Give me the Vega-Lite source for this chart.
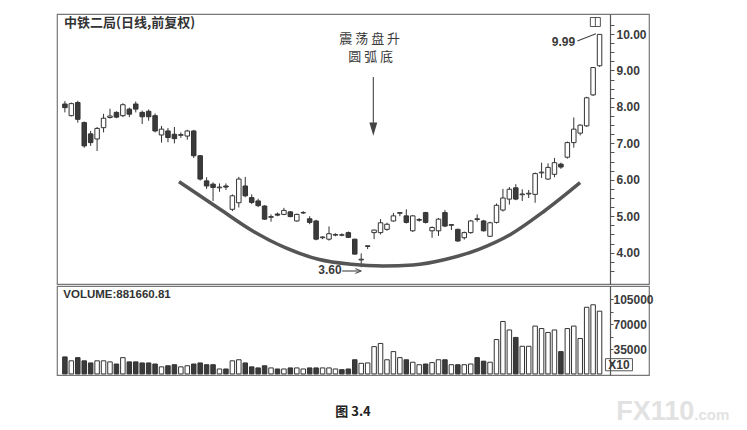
{
  "$schema": "https://vega.github.io/schema/vega-lite/v6.json",
  "background": "white",
  "padding": {"left": 56, "top": 13, "right": 0, "bottom": 0},
  "autosize": {"type": "pad"},
  "spacing": 0,
  "config": {
    "view": {"stroke": "#777", "strokeWidth": 1.2},
    "font": "Liberation Sans",
    "axis": {"title": null, "grid": false}
  },
  "datasets": {
    "candles": [
      {"i": 1, "o": 8.08, "h": 8.16, "l": 7.85, "c": 7.98, "v": 24000},
      {"i": 2, "o": 7.76, "h": 8.12, "l": 7.74, "c": 8.09, "v": 18500},
      {"i": 3, "o": 8.12, "h": 8.17, "l": 7.57, "c": 7.66, "v": 23000},
      {"i": 4, "o": 7.57, "h": 7.6, "l": 6.88, "c": 6.93, "v": 18500},
      {"i": 5, "o": 7.26, "h": 7.34, "l": 6.93, "c": 7.02, "v": 15500},
      {"i": 6, "o": 7.12, "h": 7.45, "l": 6.79, "c": 7.41, "v": 18500},
      {"i": 7, "o": 7.43, "h": 7.81, "l": 7.3, "c": 7.69, "v": 18500},
      {"i": 8, "o": 7.71, "h": 7.95, "l": 7.68, "c": 7.75, "v": 17000},
      {"i": 9, "o": 7.85, "h": 7.88, "l": 7.69, "c": 7.72, "v": 14000},
      {"i": 10, "o": 7.76, "h": 8.1, "l": 7.72, "c": 8.06, "v": 23000},
      {"i": 11, "o": 7.94, "h": 7.98, "l": 7.72, "c": 7.8, "v": 17000},
      {"i": 12, "o": 8.08, "h": 8.15, "l": 7.85, "c": 7.94, "v": 17000},
      {"i": 13, "o": 7.85, "h": 7.9, "l": 7.53, "c": 7.73, "v": 15500},
      {"i": 14, "o": 7.88, "h": 7.93, "l": 7.62, "c": 7.73, "v": 15500},
      {"i": 15, "o": 7.76, "h": 7.82, "l": 7.3, "c": 7.34, "v": 14000},
      {"i": 16, "o": 7.23, "h": 7.48, "l": 7.02, "c": 7.39, "v": 10000},
      {"i": 17, "o": 7.34, "h": 7.42, "l": 7.03, "c": 7.16, "v": 11500},
      {"i": 18, "o": 7.25, "h": 7.45, "l": 7.0, "c": 7.13, "v": 13000},
      {"i": 19, "o": 7.22, "h": 7.3, "l": 7.15, "c": 7.24, "v": 10000},
      {"i": 20, "o": 7.2, "h": 7.37, "l": 7.1, "c": 7.34, "v": 11500},
      {"i": 21, "o": 7.34, "h": 7.37, "l": 6.6, "c": 6.66, "v": 14000},
      {"i": 22, "o": 6.66, "h": 6.68, "l": 5.98, "c": 6.02, "v": 15500},
      {"i": 23, "o": 5.97, "h": 6.07, "l": 5.75, "c": 5.83, "v": 13000},
      {"i": 24, "o": 5.88, "h": 5.93, "l": 5.42, "c": 5.79, "v": 13000},
      {"i": 25, "o": 5.78, "h": 5.9, "l": 5.67, "c": 5.8, "v": 7000},
      {"i": 26, "o": 5.83, "h": 5.9, "l": 5.72, "c": 5.8, "v": 7000},
      {"i": 27, "o": 5.19, "h": 5.6, "l": 5.14, "c": 5.56, "v": 18500},
      {"i": 28, "o": 5.37, "h": 6.08, "l": 5.24, "c": 6.02, "v": 20000},
      {"i": 29, "o": 5.83, "h": 6.08, "l": 5.52, "c": 5.56, "v": 15500},
      {"i": 30, "o": 5.51, "h": 5.6, "l": 5.33, "c": 5.38, "v": 10000},
      {"i": 31, "o": 5.42, "h": 5.48, "l": 5.25, "c": 5.29, "v": 8500},
      {"i": 32, "o": 5.28, "h": 5.3, "l": 4.9, "c": 4.92, "v": 11500},
      {"i": 33, "o": 4.97, "h": 5.05, "l": 4.85, "c": 4.99, "v": 8500},
      {"i": 34, "o": 5.06, "h": 5.1, "l": 5.0, "c": 5.03, "v": 7000},
      {"i": 35, "o": 5.05, "h": 5.23, "l": 5.03, "c": 5.16, "v": 7000},
      {"i": 36, "o": 5.12, "h": 5.14, "l": 4.97, "c": 4.99, "v": 8500},
      {"i": 37, "o": 4.87, "h": 5.07, "l": 4.85, "c": 5.05, "v": 8500},
      {"i": 38, "o": 5.09, "h": 5.14, "l": 5.06, "c": 5.1, "v": 7000},
      {"i": 39, "o": 4.93, "h": 5.0, "l": 4.78, "c": 4.83, "v": 8500},
      {"i": 40, "o": 4.87, "h": 4.9, "l": 4.34, "c": 4.37, "v": 8500},
      {"i": 41, "o": 4.41, "h": 4.45, "l": 4.37, "c": 4.43, "v": 8500},
      {"i": 42, "o": 4.37, "h": 4.72, "l": 4.33, "c": 4.52, "v": 8500},
      {"i": 43, "o": 4.48, "h": 4.53, "l": 4.45, "c": 4.5, "v": 7000},
      {"i": 44, "o": 4.49, "h": 4.53, "l": 4.45, "c": 4.48, "v": 6000},
      {"i": 45, "o": 4.55, "h": 4.58, "l": 4.4, "c": 4.42, "v": 7000},
      {"i": 46, "o": 4.37, "h": 4.38, "l": 3.95, "c": 3.96, "v": 20000},
      {"i": 47, "o": 3.8, "h": 3.98, "l": 3.6, "c": 3.82, "v": 15000},
      {"i": 48, "o": 4.17, "h": 4.19, "l": 4.1, "c": 4.19, "v": 15500},
      {"i": 49, "o": 4.55, "h": 4.63, "l": 4.37, "c": 4.62, "v": 38500},
      {"i": 50, "o": 4.55, "h": 4.92, "l": 4.5, "c": 4.82, "v": 43000},
      {"i": 51, "o": 4.64, "h": 4.82, "l": 4.6, "c": 4.78, "v": 20000},
      {"i": 52, "o": 4.87, "h": 5.09, "l": 4.85, "c": 5.01, "v": 31500},
      {"i": 53, "o": 5.08, "h": 5.11, "l": 5.0, "c": 5.1, "v": 23000},
      {"i": 54, "o": 5.01, "h": 5.19, "l": 4.8, "c": 4.83, "v": 20000},
      {"i": 55, "o": 4.6, "h": 5.03, "l": 4.57, "c": 5.01, "v": 16500},
      {"i": 56, "o": 4.89, "h": 4.95, "l": 4.85, "c": 4.91, "v": 13000},
      {"i": 57, "o": 5.1, "h": 5.12, "l": 4.8, "c": 4.83, "v": 14000},
      {"i": 58, "o": 4.6, "h": 4.72, "l": 4.41, "c": 4.69, "v": 16000},
      {"i": 59, "o": 4.6, "h": 4.95, "l": 4.46, "c": 4.92, "v": 20000},
      {"i": 60, "o": 5.1, "h": 5.17, "l": 4.7, "c": 4.73, "v": 20000},
      {"i": 61, "o": 4.75, "h": 4.78, "l": 4.62, "c": 4.77, "v": 13000},
      {"i": 62, "o": 4.64, "h": 4.66, "l": 4.3, "c": 4.32, "v": 13000},
      {"i": 63, "o": 4.41, "h": 4.58, "l": 4.36, "c": 4.55, "v": 13000},
      {"i": 64, "o": 4.55, "h": 4.9, "l": 4.52, "c": 4.87, "v": 14000},
      {"i": 65, "o": 4.93, "h": 5.05, "l": 4.85, "c": 4.91, "v": 23000},
      {"i": 66, "o": 4.87, "h": 4.9, "l": 4.58, "c": 4.6, "v": 18000},
      {"i": 67, "o": 4.45, "h": 4.85, "l": 4.43, "c": 4.82, "v": 16500},
      {"i": 68, "o": 4.83, "h": 5.35, "l": 4.8, "c": 5.3, "v": 48500},
      {"i": 69, "o": 5.17, "h": 5.75, "l": 5.13, "c": 5.5, "v": 74000},
      {"i": 70, "o": 5.47, "h": 5.8, "l": 5.32, "c": 5.74, "v": 62000},
      {"i": 71, "o": 5.78, "h": 5.88, "l": 5.44, "c": 5.47, "v": 51500},
      {"i": 72, "o": 5.59, "h": 5.74, "l": 5.42, "c": 5.61, "v": 39000},
      {"i": 73, "o": 5.61, "h": 5.72, "l": 5.5, "c": 5.63, "v": 39000},
      {"i": 74, "o": 5.6, "h": 6.2, "l": 5.37, "c": 6.17, "v": 67500},
      {"i": 75, "o": 6.19, "h": 6.47, "l": 6.05, "c": 6.21, "v": 64000},
      {"i": 76, "o": 6.02, "h": 6.45, "l": 6.0, "c": 6.34, "v": 58500},
      {"i": 77, "o": 6.15, "h": 6.6, "l": 6.07, "c": 6.47, "v": 62000},
      {"i": 78, "o": 6.43, "h": 6.47, "l": 6.3, "c": 6.35, "v": 31500},
      {"i": 79, "o": 6.62, "h": 7.05, "l": 6.58, "c": 7.02, "v": 64000},
      {"i": 80, "o": 7.02, "h": 7.71, "l": 6.88, "c": 7.39, "v": 67500},
      {"i": 81, "o": 7.28, "h": 7.52, "l": 7.22, "c": 7.5, "v": 50000},
      {"i": 82, "o": 7.48, "h": 8.28, "l": 7.45, "c": 8.25, "v": 94000},
      {"i": 83, "o": 8.33, "h": 9.09, "l": 8.3, "c": 9.08, "v": 97500},
      {"i": 84, "o": 9.13, "h": 9.99, "l": 9.1, "c": 9.99, "v": 88500}
    ],
    "arc": [
      {"i": 18.71, "p": 5.948},
      {"i": 25.08, "p": 5.19},
      {"i": 30.16, "p": 4.595},
      {"i": 35.2, "p": 4.137},
      {"i": 40.34, "p": 3.819},
      {"i": 45.42, "p": 3.681},
      {"i": 50.46, "p": 3.635},
      {"i": 55.04, "p": 3.662},
      {"i": 60.18, "p": 3.819},
      {"i": 65.26, "p": 4.093},
      {"i": 70.3, "p": 4.513},
      {"i": 75.44, "p": 5.144},
      {"i": 80.98, "p": 5.921}
    ]
  },
  "vconcat": [
    {
      "width": 592,
      "height": 270,
      "encoding": {
        "x": {"type": "quantitative", "scale": {"domain": [0.55, 90.9], "nice": false, "zero": false}, "axis": null},
        "y": {
          "type": "quantitative",
          "scale": {"domain": [3.14, 10.55], "nice": false, "zero": false},
          "axis": {
            "orient": "right", "offset": -39,
            "values": [3.5, 3.75, 4, 4.25, 4.5, 4.75, 5, 5.25, 5.5, 5.75, 6, 6.25, 6.5, 6.75, 7, 7.25, 7.5, 7.75, 8, 8.25, 8.5, 8.75, 9, 9.25, 9.5, 9.75, 10, 10.25],
            "labelExpr": "datum.value % 1 === 0 ? format(datum.value, '.2f') : ''",
            "labelOverlap": false,
            "tickSize": 4,
            "labelFont": "Liberation Sans", "labelFontSize": 12, "labelFontWeight": "bold", "labelColor": "#3a3a3a", "labelPadding": 2,
            "domainColor": "#555", "domainWidth": 1.2, "tickColor": "#555"
          }
        }
      },
      "layer": [
        {
          "data": {"name": "candles"},
          "mark": {"type": "rule", "color": "#333", "strokeWidth": 1},
          "encoding": {"x": {"field": "i"}, "y": {"field": "l"}, "y2": {"field": "h"}}
        },
        {
          "data": {"name": "candles"},
          "mark": {"type": "bar", "size": 4.5, "stroke": "#333", "strokeWidth": 1},
          "encoding": {
            "x": {"field": "i"},
            "y": {"field": "o"},
            "y2": {"field": "c"},
            "fill": {"condition": {"test": "datum.c >= datum.o", "value": "white"}, "value": "#3a3a3a"}
          }
        },
        {
          "data": {"name": "arc"},
          "mark": {"type": "line", "interpolate": "monotone", "color": "#555", "strokeWidth": 3.5},
          "encoding": {"x": {"field": "i"}, "y": {"field": "p"}}
        },
        {
          "data": {"values": [
            {"i": 0.86, "p": 10.31, "t": "中铁二局(日线,前复权)"}
          ]},
          "mark": {"type": "text", "align": "left", "baseline": "middle", "font": "Noto Sans CJK SC", "fontSize": 13, "fontWeight": "bold", "color": "#333"},
          "encoding": {"x": {"field": "i"}, "y": {"field": "p"}, "text": {"field": "t"}}
        },
        {
          "data": {"values": [
            {"i": 48.32, "p": 9.87, "t": "震 荡 盘 升"},
            {"i": 48.47, "p": 9.38, "t": "圆 弧 底"}
          ]},
          "mark": {"type": "text", "align": "center", "baseline": "middle", "font": "Noto Sans CJK SC", "fontSize": 13, "color": "#3a3a3a"},
          "encoding": {"x": {"field": "i"}, "y": {"field": "p"}, "text": {"field": "t"}}
        },
        {
          "data": {"values": [
            {"i": 48.88, "p": 8.82, "p2": 7.5},
            {"i": 44.05, "i2": 46.85, "p": 3.497, "p2": 3.497},
            {"i": 80.55, "i2": 83.43, "p": 9.81, "p2": 10.01}
          ]},
          "mark": {"type": "rule", "color": "#444", "strokeWidth": 1.1},
          "encoding": {"x": {"field": "i"}, "x2": {"field": "i2"}, "y": {"field": "p"}, "y2": {"field": "p2"}}
        },
        {
          "data": {"values": [{"i": 48.88, "p": 7.39}]},
          "mark": {"type": "point", "shape": "M-0.6,-1L0.6,-1L0,1Z", "size": 174, "filled": true, "color": "#444", "opacity": 1},
          "encoding": {"x": {"field": "i"}, "y": {"field": "p"}}
        },
        {
          "data": {"values": [{"i": 46.55, "p": 3.497}]},
          "mark": {"type": "point", "shape": "M-1,-0.8L1,0L-1,0.8", "size": 36, "filled": false, "color": "#444", "strokeWidth": 1, "opacity": 1},
          "encoding": {"x": {"field": "i"}, "y": {"field": "p"}}
        },
        {
          "data": {"values": [{"i": 83.35, "p": 10.33}]},
          "mark": {"type": "point", "shape": "M-1,-0.9L1,-0.9L1,0.9L-1,0.9Z M0,-0.9L0,0.9", "size": 100, "filled": false, "color": "#555", "strokeWidth": 1, "opacity": 1},
          "encoding": {"x": {"field": "i"}, "y": {"field": "p"}}
        },
        {
          "data": {"values": [
            {"i": 80.2, "p": 9.787, "t": "9.99", "a": "right"},
            {"i": 42.14, "p": 3.517, "t": "3.60", "a": "center"}
          ]},
          "mark": {"type": "text", "align": {"expr": "datum.a"}, "baseline": "middle", "fontSize": 12, "fontWeight": "bold", "color": "#3a3a3a"},
          "encoding": {"x": {"field": "i"}, "y": {"field": "p"}, "text": {"field": "t"}}
        }
      ]
    },
    {
      "width": 592,
      "height": 89,
      "encoding": {
        "x": {"type": "quantitative", "scale": {"domain": [0.55, 90.9], "nice": false, "zero": false}, "axis": null},
        "y": {
          "type": "quantitative",
          "scale": {"domain": [-1500, 124000], "nice": false, "zero": false},
          "axis": {
            "orient": "right", "offset": -39,
            "values": [17500, 35000, 52500, 70000, 87500, 105000],
            "labelExpr": "datum.value % 35000 === 0 ? format(datum.value, 'd') : ''",
            "labelOverlap": false,
            "tickSize": 3,
            "labelFont": "Liberation Sans", "labelFontSize": 12, "labelFontWeight": "bold", "labelColor": "#3a3a3a", "labelPadding": 0,
            "domainColor": "#555", "domainWidth": 1.2, "tickColor": "#555"
          }
        }
      },
      "layer": [
        {
          "data": {"name": "candles"},
          "mark": {"type": "bar", "size": 4.5, "stroke": "#333", "strokeWidth": 1},
          "encoding": {
            "x": {"field": "i"},
            "y": {"field": "v"},
            "y2": {"datum": 0},
            "fill": {"condition": {"test": "datum.c >= datum.o", "value": "white"}, "value": "#3a3a3a"}
          }
        },
        {
          "data": {"values": [{"i": 0.75, "v": 112000, "t": "VOLUME:881660.81"}]},
          "mark": {"type": "text", "align": "left", "baseline": "middle", "fontSize": 11.5, "fontWeight": "bold", "color": "#333"},
          "encoding": {"x": {"field": "i"}, "y": {"field": "v"}, "text": {"field": "t"}}
        },
        {
          "data": {"values": [{"i": 87.01, "v": 13000, "t": "X10"}]},
          "mark": {"type": "text", "align": "center", "baseline": "middle", "fontSize": 12, "fontWeight": "bold", "color": "#3a3a3a"},
          "encoding": {"x": {"field": "i"}, "y": {"field": "v"}, "text": {"field": "t"}}
        },
        {
          "data": {"values": [{"i": 87.01, "v": 13000}]},
          "mark": {"type": "point", "shape": "M-1,-0.45L1,-0.45L1,0.45L-1,0.45Z", "size": 729, "filled": false, "color": "#555", "strokeWidth": 1, "opacity": 1},
          "encoding": {"x": {"field": "i"}, "y": {"field": "v"}}
        },
        {
          "data": {"values": [{"i": 45.73, "v": -53670, "t": "图 3.4"}]},
          "mark": {"type": "text", "align": "center", "baseline": "middle", "font": "Noto Sans CJK SC", "fontSize": 13, "fontWeight": "bold", "color": "#222"},
          "encoding": {"x": {"field": "i"}, "y": {"field": "v"}, "text": {"field": "t"}}
        },
        {
          "data": {"values": [{"i": 86.6, "v": -64900, "t": "FX110"}]},
          "mark": {"type": "text", "align": "left", "baseline": "alphabetic", "fontSize": 27, "fontWeight": "bold", "color": "#e2e2e2"},
          "encoding": {"x": {"field": "i"}, "y": {"field": "v"}, "text": {"field": "t"}}
        },
        {
          "data": {"values": [{"i": 98.7, "v": -64900, "t": ".com"}]},
          "mark": {"type": "text", "align": "left", "baseline": "alphabetic", "fontSize": 15, "fontWeight": "bold", "color": "#e2e2e2"},
          "encoding": {"x": {"field": "i"}, "y": {"field": "v"}, "text": {"field": "t"}}
        }
      ]
    }
  ]
}
